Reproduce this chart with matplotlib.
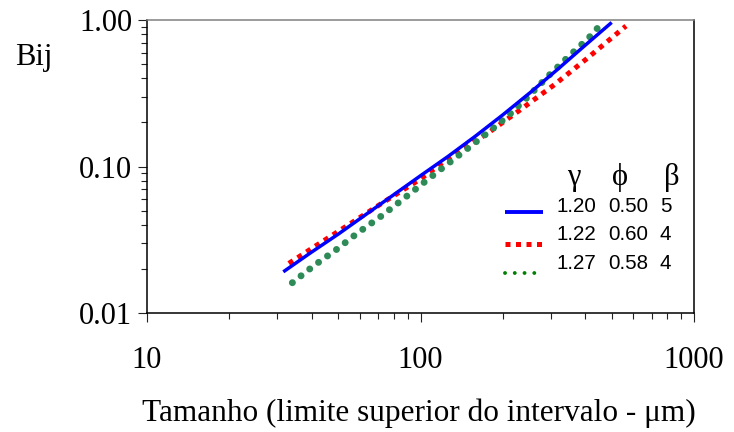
import matplotlib
matplotlib.use("Agg")
import matplotlib.pyplot as plt
from matplotlib.lines import Line2D
from matplotlib.ticker import FixedLocator, FixedFormatter, NullFormatter, LogLocator

# ---- data ----
blue_x = [31.5, 39.8, 50.1, 63.1, 79.4, 100, 125.9, 158.5, 199.5, 251.2, 316.2, 398.1, 500]
blue_y = [0.0191, 0.0259, 0.0346, 0.0470, 0.0637, 0.0865, 0.1169, 0.1607, 0.2244, 0.3184, 0.4581, 0.6668, 0.962]

red_x = [33.0, 41.0, 54.8, 73.7, 99.6, 131.8, 176.5, 231.1, 307.7, 402.8, 564]
red_y = [0.0218, 0.0284, 0.0402, 0.0575, 0.0818, 0.1198, 0.1693, 0.2430, 0.3600, 0.539, 0.910]

green_x = [34.0, 40.7, 49.0, 58.7, 70.9, 85.6, 102.7, 122.9, 147.9, 177.0, 210.7, 249.3, 293.3, 347.1, 410.8, 446.7]
green_y = [0.0161, 0.0210, 0.0269, 0.0350, 0.0450, 0.0591, 0.0775, 0.1008, 0.1317, 0.1712, 0.2247, 0.3043, 0.4147, 0.5616, 0.750, 0.892]

legend_header = ["γ", "ϕ", "β"]
legend_rows = [["1.20", "0.50", "5"], ["1.22", "0.60", "4"], ["1.27", "0.58", "4"]]

x_ticks = [10, 100, 1000]
x_labels = ["10", "100", "1000"]
y_ticks = [0.01, 0.1, 1.0]
y_labels = ["0.01", "0.10", "1.00"]

W, H = 734, 432
fig = plt.figure(figsize=(W / 100, H / 100), dpi=100)
ax = fig.add_axes([147 / W, 1 - 313 / H, (694 - 147) / W, (313 - 20) / H])

ax.set_xscale("log")
ax.set_yscale("log")
ax.set_xlim(10, 1000)
ax.set_ylim(0.01, 1.0)

ax.plot(blue_x, blue_y, color="#0000FF", lw=2.5, solid_capstyle="butt", zorder=3)
ax.plot(red_x, red_y, color="#FF0000", lw=3.6, linestyle=(0, (1, 1.1)),
        dash_capstyle="butt", zorder=2)
ax.plot(green_x, green_y, color="#2E8B57", lw=5.0, linestyle=(0, (0.01, 1.58)),
        dash_capstyle="round", zorder=2)

serif = ["Liberation Serif", "DejaVu Serif"]

ax.xaxis.set_major_locator(FixedLocator(x_ticks))
ax.xaxis.set_major_formatter(FixedFormatter(x_labels))
ax.xaxis.set_minor_locator(LogLocator(base=10, subs=range(2, 10)))
ax.xaxis.set_minor_formatter(NullFormatter())
ax.yaxis.set_major_locator(FixedLocator(y_ticks))
ax.yaxis.set_major_formatter(FixedFormatter(y_labels))
ax.yaxis.set_minor_locator(LogLocator(base=10, subs=range(2, 10)))
ax.yaxis.set_minor_formatter(NullFormatter())

ax.tick_params(which="major", direction="out", length=6.5, width=0.8, color="#222222")
ax.tick_params(which="minor", direction="out", length=4.6, width=0.8, color="#222222")
ax.tick_params(axis="x", which="major", pad=17)
ax.tick_params(axis="y", which="major", pad=4)
for lab in ax.get_xticklabels() + ax.get_yticklabels():
    lab.set_family(serif)
    lab.set_fontsize(22)

for side in ["left", "bottom", "right"]:
    ax.spines[side].set_color("black")
    ax.spines[side].set_linewidth(1.1)
ax.spines["top"].set_color("#808080")
ax.spines["top"].set_linewidth(1.1)

def fx(px):
    return px / W

def fy(py):
    return 1 - py / H

fig.text(fx(15), fy(65), "Bij", family=serif, fontsize=22, ha="left", va="baseline")
fig.text(fx(418.5), fy(421.5), "Tamanho (limite superior do intervalo - μm)",
         family=serif, fontsize=22.5, ha="center", va="baseline")

# legend (manual table)
for cx, t in zip([574, 620, 672], legend_header):
    fig.text(fx(cx), fy(178), t, family=serif, fontsize=22, ha="center", va="center")
row_y = [206, 234.5, 263.5]
col_x = [557, 608, 660]
for ry, row in zip(row_y, legend_rows):
    for cxp, t in zip(col_x, row):
        fig.text(fx(cxp), fy(ry), t, family=["Liberation Sans", "DejaVu Sans"],
                 fontsize=14.8, ha="left", va="center")

fig.add_artist(Line2D([fx(505), fx(543)], [fy(212), fy(212)], color="#0000FF", lw=2.8,
                      solid_capstyle="butt"))
fig.add_artist(Line2D([fx(505), fx(545)], [fy(244), fy(244)], color="#FF0000", lw=3.6,
                      linestyle=(0, (1, 1.1)), dash_capstyle="butt"))
fig.add_artist(Line2D([fx(505), fx(543)], [fy(273), fy(273)], color="#008000", lw=2.8,
                      linestyle=(0, (0.01, 2.5)), dash_capstyle="round"))

fig.savefig("out.png", dpi=100)
